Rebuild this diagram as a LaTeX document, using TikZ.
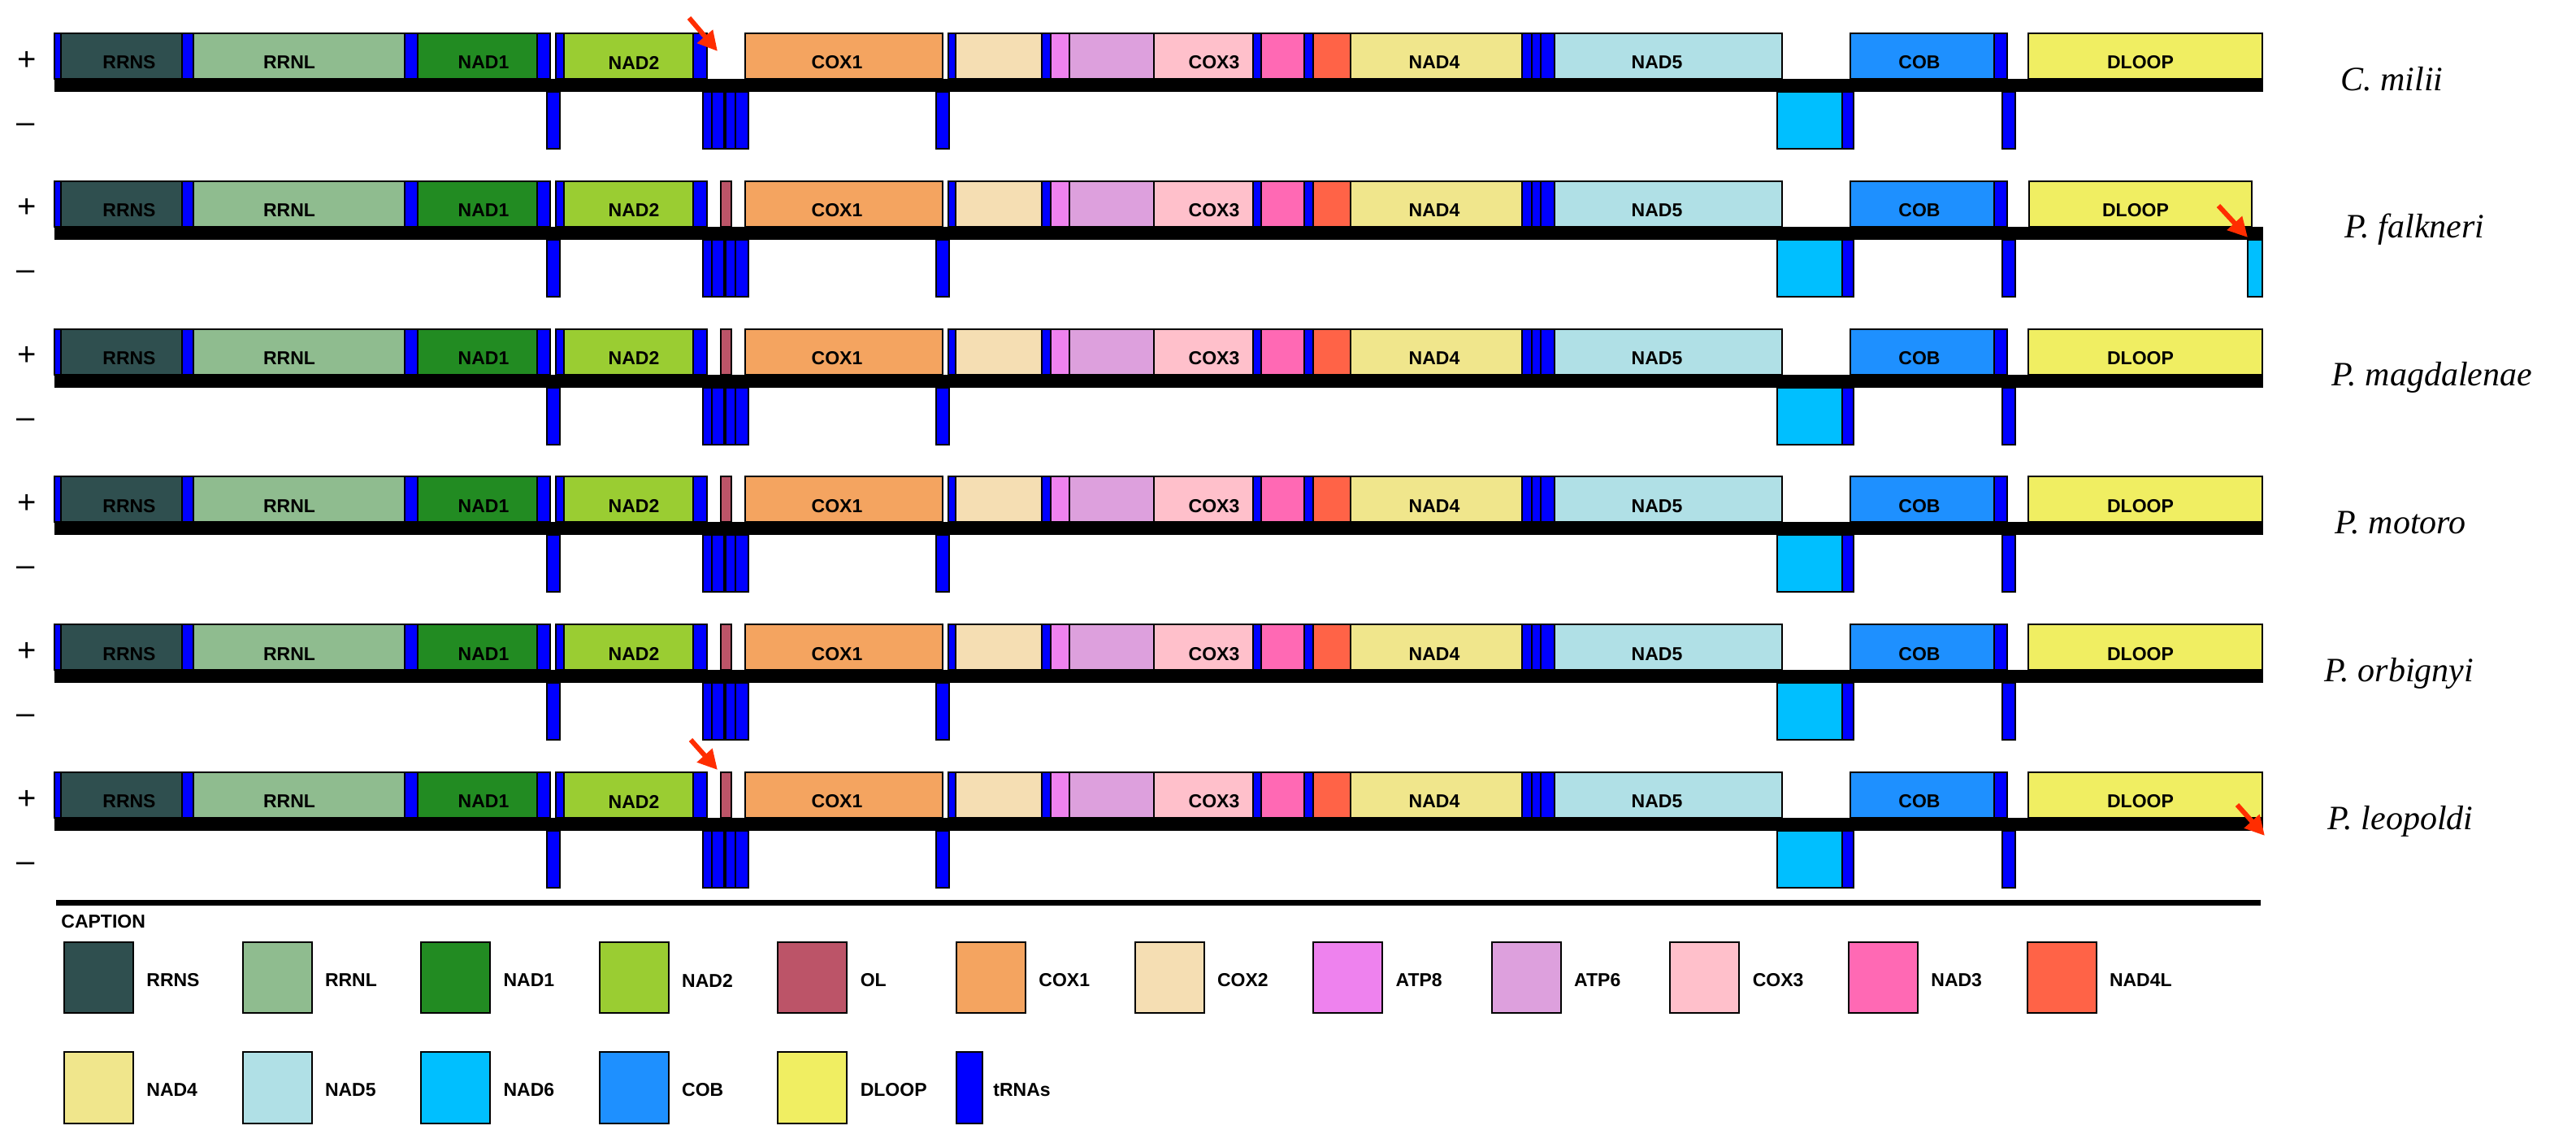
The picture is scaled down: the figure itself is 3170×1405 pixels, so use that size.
\documentclass[tikz,border=0pt]{standalone}
\usepackage{fontspec}
\setmainfont{Liberation Serif}
\newfontfamily\gfont{Liberation Sans}
\usetikzlibrary{arrows.meta}
\definecolor{cRRNS}{HTML}{2F4F4F}
\definecolor{cRRNL}{HTML}{8FBC8F}
\definecolor{cNAD1}{HTML}{228B22}
\definecolor{cNAD2}{HTML}{9ACD32}
\definecolor{cOL}{HTML}{BC5468}
\definecolor{cCOX1}{HTML}{F4A460}
\definecolor{cCOX2}{HTML}{F5DEB3}
\definecolor{cATP8}{HTML}{EE82EE}
\definecolor{cATP6}{HTML}{DDA0DD}
\definecolor{cCOX3}{HTML}{FFC0CB}
\definecolor{cNAD3}{HTML}{FF69B4}
\definecolor{cNAD4L}{HTML}{FF6347}
\definecolor{cNAD4}{HTML}{F0E68C}
\definecolor{cNAD5}{HTML}{B0E0E6}
\definecolor{cNAD6}{HTML}{00BFFF}
\definecolor{cCOB}{HTML}{1E90FF}
\definecolor{cDLOOP}{HTML}{F0EE62}
\definecolor{cTRNA}{HTML}{0000FF}
\definecolor{cArrow}{RGB}{255,45,0}
\newcommand\ub[3]{\draw[gb,fill=#3] (#1,41) rectangle (#2,97);}
\newcommand\lb[3]{\draw[gb,fill=#3] (#1,113) rectangle (#2,183);}
\begin{document}
\begin{tikzpicture}[x=0.5pt,y=-0.5pt,
  gb/.style={draw=black,line width=1pt},
  glabel/.style={font=\gfont\bfseries\fontsize{11.5}{13}\selectfont,inner sep=0pt},
  sign/.style={font=\gfont\fontsize{20}{22}\selectfont,inner sep=0pt,anchor=base},
  species/.style={font=\itshape\fontsize{21}{24}\selectfont,inner sep=0pt,anchor=base west},
  redarrow/.style={draw=cArrow,line width=3pt,-{Triangle[length=12pt,width=12pt]}}]
\useasboundingbox (0,0) rectangle (3170,1405);
\foreach \i/\off/\sp/\sx in {1/0/C. milii/2880, 2/181.8/P. falkneri/2885, 3/363.6/P. magdalenae/2869, 4/545.4/P. motoro/2873, 5/727.2/P. orbignyi/2860, 6/909/P. leopoldi/2864}{
\begin{scope}[shift={(0,\off)}]
  \node[sign] (plus\i) at (33,86) {+};
  \node[sign] (minus\i) at (32,163) {–};
  \fill[black] (67,97) rectangle (2785,113);
  % upper strand
  \ub{67}{75}{cTRNA}
  \ub{75}{224}{cRRNS}
  \ub{224}{238}{cTRNA}
  \ub{238}{498}{cRRNL}
  \ub{498}{514}{cTRNA}
  \ub{514}{661}{cNAD1}
  \ub{661}{677}{cTRNA}
  \ub{684}{694}{cTRNA}
  \ub{694}{853}{cNAD2}
  \ub{853}{870}{cTRNA}
  \ifnum\i>1 \ub{887}{900}{cOL}\fi
  \ub{917}{1160}{cCOX1}
  \ub{1167}{1176}{cTRNA}
  \ub{1176}{1282}{cCOX2}
  \ub{1282}{1293}{cTRNA}
  \ub{1293}{1316}{cATP8}
  \ub{1316}{1420}{cATP6}
  \ub{1420}{1542}{cCOX3}
  \ub{1542}{1552}{cTRNA}
  \ub{1552}{1605}{cNAD3}
  \ub{1605}{1616}{cTRNA}
  \ub{1616}{1662}{cNAD4L}
  \ub{1662}{1873}{cNAD4}
  \ub{1873}{1885}{cTRNA}
  \ub{1885}{1896}{cTRNA}
  \ub{1896}{1913}{cTRNA}
  \ub{1913}{2193}{cNAD5}
  \ub{2277}{2454}{cCOB}
  \ub{2454}{2470}{cTRNA}
  \ifnum\i=2 \ub{2497}{2771}{cDLOOP}\else\ub{2496}{2784}{cDLOOP}\fi
  % lower strand
  \lb{673}{689}{cTRNA}
  \lb{865}{876}{cTRNA}
  \lb{876}{891}{cTRNA}
  \ifnum\i=1 \lb{891}{893}{cOL}\fi
  \lb{893}{905}{cTRNA}
  \lb{905}{921}{cTRNA}
  \lb{1152}{1168}{cTRNA}
  \lb{2187}{2267}{cNAD6}
  \lb{2267}{2281}{cTRNA}
  \lb{2464}{2480}{cTRNA}
  \ifnum\i=2 \lb{2766}{2784}{cNAD6}\fi
  % labels
  \node[glabel] (rrns\i) at (159,77) {RRNS};
  \node[glabel] (rrnl\i) at (356,77) {RRNL};
  \node[glabel] (nadone\i) at (595,77) {NAD1};
  \node[glabel] (nadtwo\i) at (780,77) {NAD2};
  \node[glabel] (coxone\i) at (1030,77) {COX1};
  \node[glabel] (coxthree\i) at (1494,77) {COX3};
  \node[glabel] (nadfour\i) at (1765,77) {NAD4};
  \node[glabel] (nadfive\i) at (2039,77) {NAD5};
  \node[glabel] (cob\i) at (2362,77) {COB};
  \ifnum\i=2 \node[glabel] (dloop\i) at (2628,77) {DLOOP};\else\node[glabel] (dloop\i) at (2634,77) {DLOOP};\fi
  \node[species] (sp\i) at (\sx,111) {\sp};
\end{scope}
}
% red arrows
\coordinate (aAs) at (848,22);  \coordinate (aAe) at (883,63);
\coordinate (aBs) at (2730,253); \coordinate (aBe) at (2766,292);
\coordinate (aCs) at (850,910); \coordinate (aCe) at (883,947);
\coordinate (aDs) at (2753,990); \coordinate (aDe) at (2787,1028);
\draw[redarrow] (aAs) -- (aAe);
\draw[redarrow] (aBs) -- (aBe);
\draw[redarrow] (aCs) -- (aCe);
\draw[redarrow] (aDs) -- (aDe);
% caption
\fill[black] (69,1107) rectangle (2782,1114);
\node[glabel,anchor=west] (caption) at (75,1134) {CAPTION};
\foreach \n/\c [count=\k from 0] in {RRNS/cRRNS,RRNL/cRRNL,NAD1/cNAD1,NAD2/cNAD2,OL/cOL,COX1/cCOX1,COX2/cCOX2,ATP8/cATP8,ATP6/cATP6,COX3/cCOX3,NAD3/cNAD3,NAD4L/cNAD4L}{
  \pgfmathsetmacro\xx{79+219.6*\k}
  \draw[gb,fill=\c] (\xx,1159) rectangle ++(85,87);
  \node[glabel,anchor=west] (leg\n) at (\xx+101,1206) {\n};
}
\foreach \n/\c [count=\k from 0] in {NAD4/cNAD4,NAD5/cNAD5,NAD6/cNAD6,COB/cCOB,DLOOP/cDLOOP}{
  \pgfmathsetmacro\xx{79+219.6*\k}
  \draw[gb,fill=\c] (\xx,1294) rectangle ++(85,88);
  \node[glabel,anchor=west] (legb\n) at (\xx+101,1341) {\n};
}
\draw[gb,fill=cTRNA] (1177,1294) rectangle (1209,1382);
\node[glabel,anchor=west] (legtrna) at (1222,1341) {tRNAs};
\end{tikzpicture}
\end{document}
